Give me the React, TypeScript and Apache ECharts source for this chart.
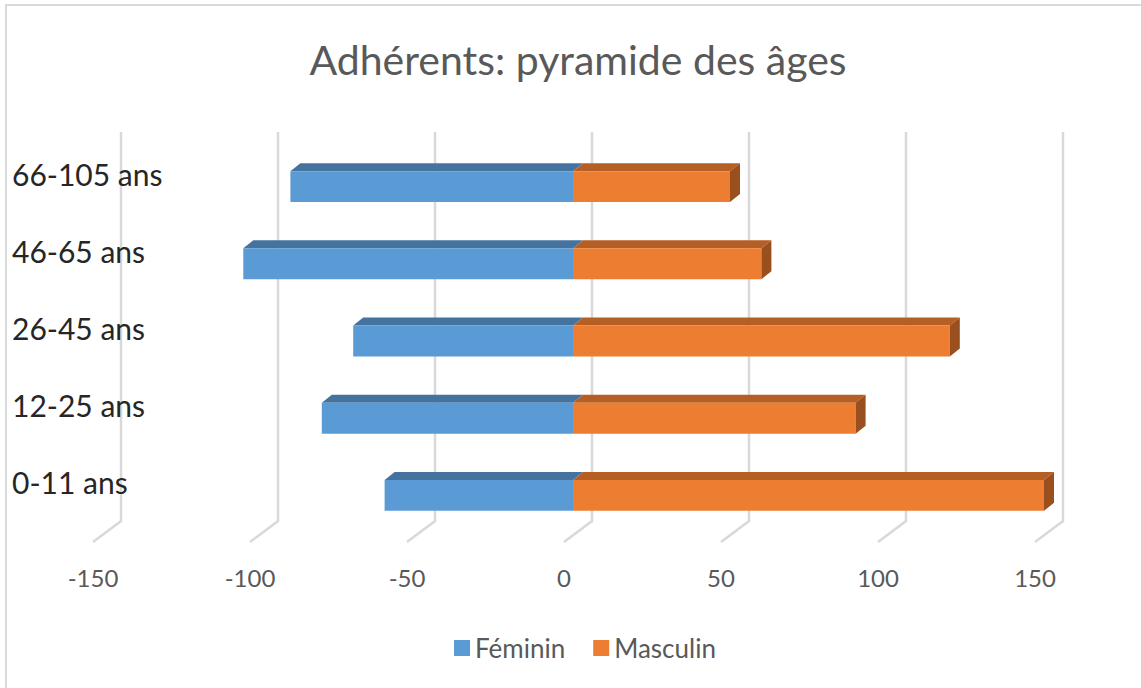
import React, { useEffect, useRef } from "react";
import * as echarts from "echarts";

const categories = ["0-11 ans", "12-25 ans", "26-45 ans", "46-65 ans", "66-105 ans"];
const feminin = [-60, -80, -70, -105, -90];
const masculin = [150, 90, 120, 60, 50];
const xTicks = [-150, -100, -50, 0, 50, 100, 150];

const FONT = "Lato";

function makeBarRender(front: string, topC: string, sideC: string) {
  return (params: any, api: any) => {
    const v = api.value(0);
    const idx = api.value(1);
    const p0 = api.coord([0, idx]);
    const p1 = api.coord([v, idx]);
    const band = api.size([0, 1])[1];
    const h = band * 0.4;
    const dx = 10;
    const dy = 8;
    const top = p0[1] - h / 2;
    const bot = p0[1] + h / 2;
    const xl = Math.min(p0[0], p1[0]);
    const xr = Math.max(p0[0], p1[0]);
    const children: any[] = [
      {
        type: "polygon",
        shape: { points: [[xl, top], [xr, top], [xr + dx, top - dy], [xl + dx, top - dy]] },
        style: { fill: topC },
      },
      {
        type: "rect",
        shape: { x: xl, y: top, width: xr - xl, height: h },
        style: { fill: front },
      },
    ];
    if (v > 0) {
      children.push({
        type: "polygon",
        shape: { points: [[xr, top], [xr + dx, top - dy], [xr + dx, bot - dy], [xr, bot]] },
        style: { fill: sideC },
      });
    }
    return { type: "group", children };
  };
}

export default function App() {
  const ref = useRef<HTMLDivElement>(null);
  useEffect(() => {
    document.body.style.margin = "0";
    const chart = echarts.init(ref.current!, null, { renderer: "svg" });
    chart.setOption({
      animation: false,
      backgroundColor: "#ffffff",
      legend: {
        data: ["Féminin", "Masculin"],
        left: 449,
        top: 630,
        icon: "rect",
        itemWidth: 16,
        itemHeight: 16,
        itemGap: 28,
        textStyle: { fontFamily: FONT, fontSize: 26, color: "#595959" },
      },
      grid: { left: 102, right: 97, top: 148, bottom: 154, containLabel: false },
      xAxis: {
        type: "value",
        min: -150,
        max: 150,
        interval: 50,
        z: 5,
        splitLine: { show: false },
        axisLine: { show: false },
        axisTick: { show: false },
        axisLabel: {
          margin: 31,
          padding: [0, 18, 0, 0],
          fontFamily: FONT,
          fontSize: 24,
          color: "#595959",
        },
      },
      yAxis: {
        type: "category",
        data: categories,
        z: 5,
        axisLine: { show: false },
        axisTick: { show: false },
        splitLine: { show: false },
        axisLabel: {
          align: "left",
          verticalAlign: "bottom",
          lineHeight: 26,
          margin: 90,
          fontFamily: FONT,
          fontSize: 30,
          color: "#262626",
        },
      },
      graphic: [
        {
          type: "rect",
          shape: { x: 6, y: 5, width: 1300, height: 900 },
          style: { fill: "none", stroke: "#d9d9d9", lineWidth: 2 },
          silent: true,
        },
        {
          type: "text",
          x: 578,
          y: 59,
          style: {
            text: "Adhérents: pyramide des âges",
            fontFamily: FONT,
            fontSize: 41,
            fill: "#595959",
            align: "center",
            verticalAlign: "middle",
          },
        },
      ],
      series: [
        {
          type: "custom",
          name: "grid",
          silent: true,
          z: 1,
          data: xTicks.map((v) => [v, 0]),
          encode: { x: 0, y: 1 },
          renderItem: (params: any, api: any) => {
            const v = api.value(0);
            const p = api.coord([v, 0]);
            const cs = params.coordSys;
            const xb = p[0] + 19;
            const t = cs.y - 16;
            const b = cs.y + cs.height - 13;
            return {
              type: "polyline",
              shape: { points: [[xb, t], [xb, b], [xb - 28, b + 21]] },
              style: { stroke: "#d9d9d9", lineWidth: 2.5, fill: null },
            };
          },
        },
        {
          type: "custom",
          name: "Féminin",
          z: 2,
          itemStyle: { color: "#5b9bd5" },
          data: feminin.map((v, i) => [v, i]),
          encode: { x: 0, y: 1 },
          renderItem: makeBarRender("#5b9bd5", "#44739f", "#3d6891"),
        },
        {
          type: "custom",
          name: "Masculin",
          z: 3,
          itemStyle: { color: "#ed7d31" },
          data: masculin.map((v, i) => [v, i]),
          encode: { x: 0, y: 1 },
          renderItem: makeBarRender("#ed7d31", "#b65f24", "#9a4f1e"),
        },
      ],
    });
    return () => chart.dispose();
  }, []);
  return <div ref={ref} style={{ width: 1141, height: 688 }} />;
}
